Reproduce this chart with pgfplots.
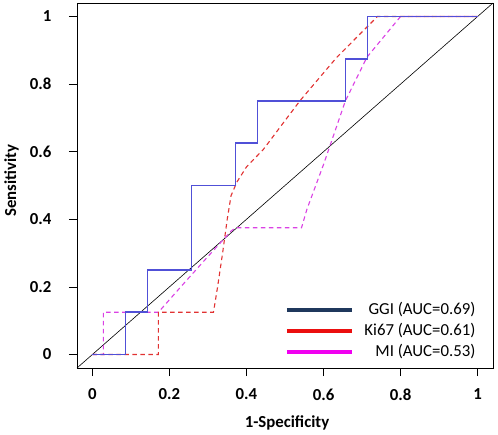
\documentclass[border=0pt]{standalone}
\usepackage{pgfplots}
\pgfplotsset{compat=1.18}
\usepackage{fontspec}
\setmainfont{Carlito}
\definecolor{ggi}{RGB}{80,80,215}
\definecolor{ki}{RGB}{225,50,50}
\definecolor{mi}{RGB}{218,65,228}
\definecolor{navy}{RGB}{31,56,92}
\definecolor{lred}{RGB}{235,15,15}
\definecolor{lmag}{RGB}{240,0,240}
\begin{document}
\begin{tikzpicture}[x=1pt,y=1pt]
\path[use as bounding box] (-77,-66) rectangle (421,368);
\begin{axis}[
  at={(0,0)}, anchor=south west,
  scale only axis, width=416pt, height=365pt,
  xmin=-0.04, xmax=1.04, ymin=-0.04, ymax=1.04,
  xtick={0,0.2,0.4,0.6,0.8,1}, ytick={0,0.2,0.4,0.6,0.8,1},
  xticklabels={0,0.2,0.4,0.6,0.8,1}, yticklabels={0,0.2,0.4,0.6,0.8,1},
  tick pos=left, tick align=outside, major tick length=8pt,
  tick style={black, line width=0.6pt},
  axis line style={black, line width=0.7pt},
  ticklabel style={font=\fontsize{16.8}{19}\selectfont\bfseries},
  xticklabel style={yshift=-9pt},
  yticklabel style={xshift=-14pt},
  xlabel={1-Specificity}, ylabel={Sensitivity},
  every axis x label/.style={at={(rel axis cs:0.5,0)}, anchor=base, xshift=2pt, yshift=-59pt,
    font=\fontsize{16.8}{19}\selectfont\bfseries},
  every axis y label/.style={at={(rel axis cs:-0.1575,0.5137)}, anchor=center, rotate=90,
    font=\fontsize{16.8}{19}\selectfont\bfseries},
  legend cell align=right,
  legend image code/.code={\draw[#1] (0pt,0pt) -- (65pt,0pt);},
  legend style={draw=none, fill=none, at={(rel axis cs:0.969,0.009)}, anchor=south east,
    row sep=0pt, column sep=9pt, font=\fontsize{16.8}{19}\selectfont,
    nodes={inner sep=1.5pt, text height=13pt, text depth=5pt}},
]
\addlegendimage{navy, line width=4pt}
\addlegendentry{GGI (AUC=0.69)}
\addlegendimage{lred, line width=4pt}
\addlegendentry{Ki67 (AUC=0.61)}
\addlegendimage{lmag, line width=4pt}
\addlegendentry{MI (AUC=0.53)}
\addplot[forget plot, black, line width=0.6pt] coordinates {(-0.04,-0.04) (1.04,1.04)};
\addplot[forget plot, mi, line width=1.1pt, dash pattern=on 4.5pt off 3.5pt] coordinates {
(0,0) (0.0286,0) (0.0286,0.125) (0.1714,0.125) (0.227,0.197) (0.30,0.29) (0.36,0.365) (0.3714,0.375)
(0.5429,0.375) (0.557,0.43) (0.60,0.562) (0.657,0.751) (0.713,0.88) (0.80,1) (1,1)};
\addplot[forget plot, ki, line width=1.1pt, dash pattern=on 4.5pt off 3.5pt] coordinates {
(0,0) (0.1714,0) (0.1714,0.125) (0.3143,0.125) (0.325,0.2) (0.338,0.3) (0.35,0.4) (0.36,0.47)
(0.375,0.51) (0.40,0.555) (0.444,0.607) (0.539,0.751) (0.635,0.88) (0.74,1) (1,1)};
\addplot[forget plot, ggi, line width=1.8pt] coordinates {
(0,0) (0.0857,0) (0.0857,0.125) (0.1429,0.125) (0.1429,0.25) (0.2571,0.25) (0.2571,0.5)
(0.3714,0.5) (0.3714,0.625) (0.4286,0.625) (0.4286,0.75) (0.6571,0.75) (0.6571,0.875)
(0.7143,0.875) (0.7143,1) (1,1)};
\end{axis}
\end{tikzpicture}
\end{document}
